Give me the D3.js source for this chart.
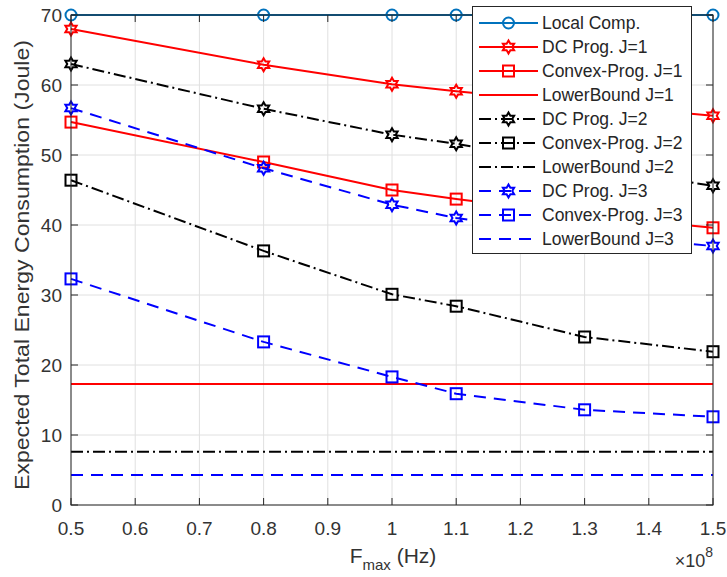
<!DOCTYPE html>
<html>
<head>
<meta charset="utf-8">
<script src="https://cdn.jsdelivr.net/npm/d3@7"></script>
<style>
body { margin: 0; background: #fff; }
svg { display: block; font-family: "Liberation Sans", Arial, sans-serif; }
</style>
</head>
<body>
<div id="chart"></div>
<script>
// Data
const fmax = [0.5, 0.8, 1.0, 1.1, 1.3, 1.5];
const localComp = [70, 70, 70, 70, 70, 70];
const dcJ1 = [68.0, 62.9, 60.1, 59.1, 57.3, 55.6];
const cvxJ1 = [54.7, 49.0, 45.0, 43.7, 41.4, 39.6];
const lbJ1 = [17.3, 17.3, 17.3, 17.3, 17.3, 17.3];
const dcJ2 = [63.0, 56.6, 52.9, 51.6, 48.4, 45.6];
const cvxJ2 = [46.4, 36.3, 30.1, 28.4, 24.0, 21.9];
const lbJ2 = [7.6, 7.6, 7.6, 7.6, 7.6, 7.6];
const dcJ3 = [56.7, 48.1, 42.9, 41.0, 38.6, 37.0];
const cvxJ3 = [32.3, 23.3, 18.3, 15.9, 13.6, 12.6];
const lbJ3 = [4.3, 4.3, 4.3, 4.3, 4.3, 4.3];
const xTicks = [0.5, 0.6, 0.7, 0.8, 0.9, 1.0, 1.1, 1.2, 1.3, 1.4, 1.5];
const yTicks = [0, 10, 20, 30, 40, 50, 60, 70];

// Style per series
const solid = null, dashDot = "12,4,2,4", dashed = "12,8";
const series = [
    { name: "Local Comp.", v: localComp, c: "#0072bd", d: solid, mk: "o" },
    { name: "DC Prog. J=1", v: dcJ1, c: "#ff0000", d: solid, mk: "h" },
    { name: "Convex-Prog. J=1", v: cvxJ1, c: "#ff0000", d: solid, mk: "s" },
    { name: "LowerBound J=1", v: lbJ1, c: "#ff0000", d: solid, mk: null },
    { name: "DC Prog. J=2", v: dcJ2, c: "#000000", d: dashDot, mk: "h" },
    { name: "Convex-Prog. J=2", v: cvxJ2, c: "#000000", d: dashDot, mk: "s" },
    { name: "LowerBound J=2", v: lbJ2, c: "#000000", d: dashDot, mk: null },
    { name: "DC Prog. J=3", v: dcJ3, c: "#0000ff", d: dashed, mk: "h" },
    { name: "Convex-Prog. J=3", v: cvxJ3, c: "#0000ff", d: dashed, mk: "s" },
    { name: "LowerBound J=3", v: lbJ3, c: "#0000ff", d: dashed, mk: null }
];

const W = 727, H = 577;
const m = { top: 15, right: 14, bottom: 72, left: 71 };
const ax = "#262626";

const svg = d3.select("#chart").append("svg")
    .attr("width", W).attr("height", H);

const x = d3.scaleLinear().domain([0.5, 1.5]).range([m.left, W - m.right]);
const y = d3.scaleLinear().domain([0, 70]).range([H - m.bottom, m.top]);

// Grid
svg.append("g").selectAll("line").data(xTicks).join("line")
    .attr("x1", d => x(d)).attr("x2", d => x(d))
    .attr("y1", m.top).attr("y2", H - m.bottom)
    .attr("stroke", "#e0e0e0");
svg.append("g").selectAll("line").data(yTicks).join("line")
    .attr("y1", d => y(d)).attr("y2", d => y(d))
    .attr("x1", m.left).attr("x2", W - m.right)
    .attr("stroke", "#e0e0e0");

// Hexagram path
function hexagram(r) {
    const pts = [];
    for (let i = 0; i < 12; i++) {
        const a = -Math.PI / 2 + i * Math.PI / 6;
        const rr = i % 2 ? r / Math.sqrt(3) : r;
        pts.push([rr * Math.cos(a), rr * Math.sin(a)]);
    }
    return "M" + pts.map(p => p.join(",")).join("L") + "Z";
}

function drawMarker(g, type, cx, cy, col) {
    if (type === "o") {
        g.append("circle").attr("cx", cx).attr("cy", cy).attr("r", 5.5)
            .attr("fill", "none").attr("stroke", col).attr("stroke-width", 2);
    } else if (type === "s") {
        g.append("rect").attr("x", cx - 5.5).attr("y", cy - 5.5)
            .attr("width", 11).attr("height", 11)
            .attr("fill", "none").attr("stroke", col).attr("stroke-width", 2);
    } else if (type === "h") {
        g.append("path").attr("d", hexagram(6.5))
            .attr("transform", `translate(${cx},${cy})`)
            .attr("fill", "none").attr("stroke", col).attr("stroke-width", 2);
    }
}

// Lines
const line = d3.line().x((d, i) => x(fmax[i])).y(d => y(d));
const plot = svg.append("g");
series.forEach(s => {
    plot.append("path")
        .attr("d", line(s.v))
        .attr("fill", "none")
        .attr("stroke", s.c)
        .attr("stroke-width", 2)
        .attr("stroke-dasharray", s.d);
    if (s.mk) {
        s.v.forEach((v, i) => drawMarker(plot, s.mk, x(fmax[i]), y(v), s.c));
    }
});

// Axes box with inward ticks
const box = svg.append("g").attr("stroke", ax).attr("fill", "none");
box.append("rect")
    .attr("x", m.left).attr("y", m.top)
    .attr("width", W - m.left - m.right).attr("height", H - m.top - m.bottom);
xTicks.forEach(t => {
    box.append("line").attr("x1", x(t)).attr("x2", x(t))
        .attr("y1", H - m.bottom).attr("y2", H - m.bottom - 7);
    box.append("line").attr("x1", x(t)).attr("x2", x(t))
        .attr("y1", m.top).attr("y2", m.top + 7);
});
yTicks.forEach(t => {
    box.append("line").attr("y1", y(t)).attr("y2", y(t))
        .attr("x1", m.left).attr("x2", m.left + 7);
    box.append("line").attr("y1", y(t)).attr("y2", y(t))
        .attr("x1", W - m.right).attr("x2", W - m.right - 7);
});

// Tick labels
svg.append("g").selectAll("text").data(xTicks).join("text")
    .attr("x", d => x(d)).attr("y", H - m.bottom + 30)
    .attr("text-anchor", "middle")
    .attr("font-size", 19).attr("fill", "#333")
    .text(d => +d.toFixed(1));
svg.append("g").selectAll("text").data(yTicks).join("text")
    .attr("x", m.left - 9).attr("y", d => y(d) + 7)
    .attr("text-anchor", "end")
    .attr("font-size", 19).attr("fill", "#333")
    .text(d => d);

// Axis labels
const xl = svg.append("text")
    .attr("x", 393).attr("y", 563)
    .attr("text-anchor", "middle")
    .attr("font-size", 21).attr("fill", "#333");
xl.append("tspan").text("F");
xl.append("tspan").attr("font-size", 15).attr("dy", 7).text("max");
xl.append("tspan").attr("dy", -7).text(" (Hz)");

const ex = svg.append("text")
    .attr("x", 713).attr("y", 567)
    .attr("text-anchor", "end")
    .attr("font-size", 18).attr("fill", "#333");
ex.append("tspan").text("×10");
ex.append("tspan").attr("font-size", 14).attr("dy", -10).text("8");

svg.append("text")
    .attr("transform", `translate(29, 265) rotate(-90)`)
    .attr("text-anchor", "middle")
    .attr("font-size", 20).attr("fill", "#333")
    .attr("textLength", 450).attr("lengthAdjust", "spacingAndGlyphs")
    .text("Expected Total Energy Consumption (Joule)");

// Legend
const lg = svg.append("g");
lg.append("rect")
    .attr("x", 472.5).attr("y", 6.5).attr("width", 219).attr("height", 247)
    .attr("fill", "#fff").attr("stroke", ax);
series.forEach((s, i) => {
    const cy = 23 + i * 24;
    lg.append("line")
        .attr("x1", 479).attr("x2", 538).attr("y1", cy).attr("y2", cy)
        .attr("stroke", s.c).attr("stroke-width", 2)
        .attr("stroke-dasharray", s.d);
    if (s.mk) drawMarker(lg, s.mk, 508.5, cy, s.c);
    lg.append("text")
        .attr("x", 542).attr("y", cy + 6)
        .attr("font-size", 17.5).attr("fill", ax)
        .text(s.name);
});
</script>
</body>
</html>
